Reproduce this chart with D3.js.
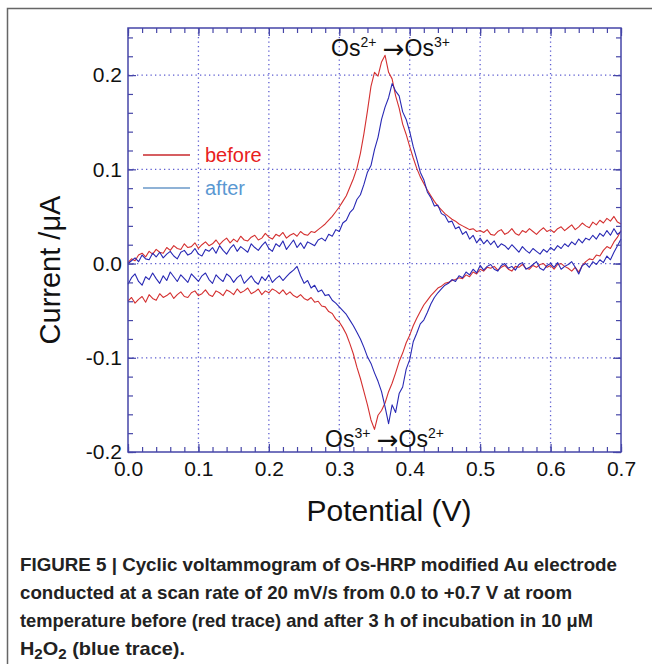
<!DOCTYPE html>
<html><head><meta charset="utf-8">
<script src="https://cdn.jsdelivr.net/npm/d3@7"></script>
<style>html,body{margin:0;padding:0;background:#fff;}svg{display:block;}</style>
</head><body>
<svg id="chart" width="652" height="664"></svg>
<script>
// ---------- DATA (µA vs V, sampled every 0.005 V from 0.0 to 0.7 V) ----------
const potentialStart = 0.0;
const potentialStep = 0.005;
const xTicks = [0.0, 0.1, 0.2, 0.3, 0.4, 0.5, 0.6, 0.7];
const yTicks = [-0.2, -0.1, 0.0, 0.1, 0.2];
const seriesNames = ["before", "after"];

// before (red) – anodic (forward) branch
const beforeForward = [0.001,0.005,0.003,0.009,0.011,0.007,0.013,0.010,0.015,0.012,0.011,0.017,0.014,0.019,0.016,0.015,0.021,0.017,0.018,0.022,
0.016,0.020,0.023,0.019,0.021,0.025,0.020,0.024,0.027,0.022,0.026,0.023,0.029,0.025,0.024,0.028,0.030,0.025,0.027,0.032,
0.028,0.026,0.031,0.029,0.033,0.027,0.030,0.032,0.029,0.034,0.031,0.030,0.034,0.033,0.036,0.039,0.042,0.046,0.050,0.055,
0.060,0.066,0.072,0.081,0.090,0.101,0.117,0.138,0.162,0.188,0.203,0.199,0.214,0.221,0.203,0.196,0.178,0.165,0.148,0.137,
0.124,0.112,0.101,0.092,0.085,0.078,0.072,0.066,0.061,0.057,0.053,0.050,0.047,0.045,0.042,0.040,0.038,0.036,0.037,0.034,
0.035,0.033,0.036,0.031,0.030,0.034,0.036,0.031,0.033,0.037,0.032,0.030,0.035,0.033,0.037,0.034,0.031,0.035,0.038,0.034,
0.036,0.033,0.037,0.039,0.035,0.038,0.041,0.036,0.039,0.043,0.040,0.038,0.044,0.041,0.046,0.043,0.048,0.045,0.050,0.044,0.042];
// before (red) – cathodic (reverse) branch
const beforeReverse = [-0.040,-0.036,-0.042,-0.038,-0.035,-0.041,-0.033,-0.037,-0.039,-0.032,-0.036,-0.034,-0.031,-0.037,-0.033,-0.030,-0.035,-0.036,-0.031,-0.029,
-0.034,-0.032,-0.028,-0.033,-0.035,-0.029,-0.031,-0.034,-0.028,-0.030,-0.033,-0.027,-0.031,-0.029,-0.026,-0.032,-0.030,-0.027,-0.033,-0.029,
-0.031,-0.027,-0.029,-0.032,-0.028,-0.033,-0.030,-0.034,-0.036,-0.033,-0.037,-0.039,-0.036,-0.041,-0.040,-0.045,-0.046,-0.051,-0.053,-0.059,
-0.062,-0.068,-0.075,-0.085,-0.096,-0.110,-0.122,-0.136,-0.150,-0.166,-0.176,-0.161,-0.156,-0.148,-0.136,-0.127,-0.116,-0.104,-0.095,-0.084,
-0.076,-0.066,-0.058,-0.051,-0.044,-0.039,-0.034,-0.030,-0.026,-0.024,-0.021,-0.020,-0.018,-0.017,-0.015,-0.016,-0.012,-0.014,-0.009,-0.011,
-0.006,-0.008,-0.004,-0.005,-0.003,-0.007,-0.004,-0.002,-0.006,-0.008,-0.003,-0.004,-0.001,-0.005,-0.006,-0.002,-0.004,-0.001,0.000,-0.004,
-0.002,-0.006,-0.001,0.000,-0.003,-0.005,-0.008,-0.004,-0.009,-0.002,0.002,0.005,0.004,0.009,0.008,0.014,0.018,0.016,0.023,0.028,0.035];
// after (blue) – anodic (forward) branch
const afterForward = [0.000,0.003,0.006,0.002,0.009,0.005,0.004,0.011,0.007,0.012,0.006,0.010,0.013,0.008,0.005,0.012,0.014,0.009,0.011,0.016,
0.010,0.008,0.015,0.013,0.017,0.011,0.019,0.014,0.010,0.016,0.020,0.013,0.018,0.015,0.012,0.021,0.017,0.014,0.019,0.023,
0.016,0.013,0.021,0.018,0.024,0.015,0.020,0.025,0.017,0.022,0.016,0.023,0.021,0.019,0.025,0.027,0.024,0.031,0.029,0.036,
0.034,0.043,0.046,0.054,0.058,0.068,0.073,0.084,0.097,0.104,0.121,0.134,0.153,0.166,0.176,0.191,0.183,0.178,0.161,0.153,
0.140,0.124,0.111,0.097,0.089,0.076,0.070,0.061,0.062,0.053,0.051,0.044,0.045,0.037,0.039,0.031,0.034,0.026,0.030,0.022,
0.027,0.021,0.025,0.020,0.024,0.017,0.021,0.019,0.015,0.020,0.016,0.012,0.018,0.014,0.011,0.016,0.013,0.010,0.015,0.012,
0.017,0.014,0.019,0.016,0.021,0.018,0.023,0.020,0.026,0.022,0.027,0.025,0.030,0.026,0.032,0.029,0.035,0.030,0.037,0.031,0.034];
// after (blue) – cathodic (reverse) branch
const afterReverse = [-0.022,-0.015,-0.011,-0.019,-0.023,-0.014,-0.017,-0.010,-0.016,-0.021,-0.013,-0.018,-0.009,-0.014,-0.019,-0.012,-0.016,-0.020,-0.011,-0.015,
-0.019,-0.013,-0.010,-0.017,-0.021,-0.012,-0.016,-0.019,-0.011,-0.014,-0.020,-0.015,-0.012,-0.021,-0.017,-0.013,-0.019,-0.022,-0.014,-0.018,
-0.012,-0.020,-0.016,-0.013,-0.018,-0.014,-0.010,-0.007,-0.003,-0.013,-0.021,-0.018,-0.026,-0.023,-0.030,-0.028,-0.034,-0.033,-0.039,-0.042,
-0.046,-0.050,-0.054,-0.060,-0.066,-0.073,-0.080,-0.089,-0.099,-0.106,-0.116,-0.125,-0.136,-0.152,-0.170,-0.150,-0.158,-0.138,-0.131,-0.112,
-0.102,-0.083,-0.074,-0.064,-0.060,-0.052,-0.043,-0.036,-0.031,-0.027,-0.023,-0.021,-0.017,-0.019,-0.013,-0.015,-0.009,-0.012,-0.006,-0.010,
-0.002,-0.007,-0.003,-0.001,-0.006,-0.008,-0.002,0.000,-0.005,-0.003,-0.007,-0.001,0.001,-0.006,-0.004,-0.001,0.002,-0.005,-0.007,-0.002,
0.000,-0.004,0.001,-0.006,-0.003,-0.001,0.002,-0.004,-0.011,-0.002,0.000,-0.004,0.002,-0.001,0.004,0.001,0.008,0.004,0.012,0.019,0.026];

const captionLines = [
  "FIGURE 5 | Cyclic voltammogram of Os-HRP modified Au electrode",
  "conducted at a scan rate of 20 mV/s from 0.0 to +0.7 V at room",
  "temperature before (red trace) and after 3 h of incubation in 10 \u03BCM"
];

// ---------- LAYOUT ----------
const svg = d3.select("#chart");
const M = {left: 128, top: 28, right: 621, bottom: 452};
const x = d3.scaleLinear().domain([0, 0.7]).range([M.left, M.right]);
const y = d3.scaleLinear().domain([-0.2, 0.25]).range([M.bottom, M.top]);

const AX = "#4646a8";
const GRID = "#5c5cd0";
const RED = "#d43030";
const BLUE = "#2828b4";
const FONT = "Liberation Sans, Arial, sans-serif";

// outer figure frame (cropped box)
svg.append("path").attr("d", "M7.5,664 V8.5 H652")
  .attr("fill", "none").attr("stroke", "#666").attr("stroke-width", 1.5);

// grid
const g = svg.append("g");
g.selectAll(".gx").data(xTicks.slice(1, -1)).join("line")
  .attr("x1", d => x(d)).attr("x2", d => x(d)).attr("y1", M.top).attr("y2", M.bottom)
  .attr("stroke", GRID).attr("stroke-width", 1.3).attr("stroke-dasharray", "1.3,3.2");
g.selectAll(".gy").data(yTicks.slice(1)).join("line")
  .attr("y1", d => y(d)).attr("y2", d => y(d)).attr("x1", M.left).attr("x2", M.right)
  .attr("stroke", GRID).attr("stroke-width", 1.3).attr("stroke-dasharray", "1.3,3.2");

// traces
const line = d3.line().x((d, i) => x(potentialStart + i * potentialStep)).y(d => y(d));
const traces = [
  {data: beforeReverse, color: RED},
  {data: beforeForward, color: RED},
  {data: afterReverse, color: BLUE},
  {data: afterForward, color: BLUE}
];
svg.append("g").selectAll("path").data(traces).join("path")
  .attr("d", d => line(d.data)).attr("fill", "none")
  .attr("stroke", d => d.color).attr("stroke-width", 1.1).attr("stroke-linejoin", "round");

// axes
const minorX = d3.range(0, 36).map(i => i * 0.02).filter(v => v <= 0.7001);
const minorY = d3.range(0, 23).map(i => -0.2 + i * 0.02).filter(v => v <= 0.2501);
function styleAxis(sel) {
  sel.select(".domain").remove();
  sel.selectAll("line").attr("stroke", AX).attr("stroke-width", 1.2);
  sel.selectAll("text").attr("fill", "#111").attr("font-family", FONT).attr("font-size", 21);
}
const fmt = v => d3.format(".1f")(v).replace("\u2212", "-");
svg.append("g").attr("transform", `translate(0,${M.bottom})`)
  .call(d3.axisBottom(x).tickValues(minorX).tickSizeInner(-5).tickSizeOuter(0).tickFormat("")).call(styleAxis);
svg.append("g").attr("transform", `translate(0,${M.bottom})`)
  .call(d3.axisBottom(x).tickValues(xTicks).tickSizeInner(-8).tickSizeOuter(0).tickPadding(9).tickFormat(fmt)).call(styleAxis);
svg.append("g").attr("transform", `translate(0,${M.top})`)
  .call(d3.axisTop(x).tickValues(minorX).tickSizeInner(-5).tickSizeOuter(0).tickFormat("")).call(styleAxis);
svg.append("g").attr("transform", `translate(0,${M.top})`)
  .call(d3.axisTop(x).tickValues(xTicks).tickSizeInner(-8).tickSizeOuter(0).tickFormat("")).call(styleAxis);
svg.append("g").attr("transform", `translate(${M.left},0)`)
  .call(d3.axisLeft(y).tickValues(minorY).tickSizeInner(-5).tickSizeOuter(0).tickFormat("")).call(styleAxis);
svg.append("g").attr("transform", `translate(${M.left},0)`)
  .call(d3.axisLeft(y).tickValues(yTicks).tickSizeInner(-8).tickSizeOuter(0).tickPadding(6).tickFormat(fmt)).call(styleAxis);
svg.append("g").attr("transform", `translate(${M.right},0)`)
  .call(d3.axisRight(y).tickValues(minorY).tickSizeInner(-5).tickSizeOuter(0).tickFormat("")).call(styleAxis);
svg.append("g").attr("transform", `translate(${M.right},0)`)
  .call(d3.axisRight(y).tickValues(yTicks).tickSizeInner(-8).tickSizeOuter(0).tickFormat("")).call(styleAxis);

// plot frame
svg.append("rect").attr("x", M.left).attr("y", M.top)
  .attr("width", M.right - M.left).attr("height", M.bottom - M.top)
  .attr("fill", "none").attr("stroke", AX).attr("stroke-width", 1.5);

// axis titles
svg.append("text").attr("x", 389).attr("y", 521).attr("text-anchor", "middle")
  .attr("font-family", FONT).attr("font-size", 30).attr("fill", "#111")
  .text("Potential (V)");
svg.append("text").attr("transform", "translate(60,270) rotate(-90)").attr("text-anchor", "middle")
  .attr("font-family", FONT).attr("font-size", 29).attr("fill", "#111")
  .text("Current /\u03BCA");

// annotations
function annot(xPos, yPos, a, b) {
  const t = svg.append("text").attr("x", xPos).attr("y", yPos)
    .attr("font-family", FONT).attr("font-size", 23).attr("fill", "#111");
  t.append("tspan").text("Os");
  t.append("tspan").attr("font-size", 14).attr("dy", -9).text(a);
  t.append("tspan").attr("dy", 9).text(" ");
  t.append("tspan").attr("font-family", "DejaVu Sans, sans-serif").attr("font-size", 26).attr("dy", 2).text("\u2192");
  t.append("tspan").attr("dy", -2).text("Os");
  t.append("tspan").attr("font-size", 14).attr("dy", -9).text(b);
}
annot(331, 56, "2+", "3+");
annot(325, 447, "3+", "2+");

// legend
const legend = [
  {name: seriesNames[0], line: "#c8282c", text: "#e8201c", yy: 155},
  {name: seriesNames[1], line: "#6a98c8", text: "#5a98d2", yy: 188}
];
const lg = svg.append("g").selectAll("g").data(legend).join("g");
lg.append("line").attr("x1", 143).attr("x2", 190).attr("y1", d => d.yy).attr("y2", d => d.yy)
  .attr("stroke", d => d.line).attr("stroke-width", 1.6);
lg.append("text").attr("x", 205).attr("y", d => d.yy + 7)
  .attr("font-family", FONT).attr("font-size", 20)
  .attr("fill", d => d.text).text(d => d.name);

// caption
const capW = [597, 552, 573];
const CAPFONT = "Liberation Sans Narrow, Arial Narrow, Liberation Sans, sans-serif";
captionLines.forEach((s, i) => {
  svg.append("text").attr("x", 20).attr("y", 571 + i * 28)
    .attr("font-family", CAPFONT)
    .attr("font-weight", "bold").attr("font-size", 18.5).attr("fill", "#222")
    .attr("textLength", capW[i]).attr("lengthAdjust", "spacingAndGlyphs")
    .text(s);
});
const last = svg.append("text").attr("x", 20).attr("y", 655)
  .attr("font-family", CAPFONT)
  .attr("font-weight", "bold").attr("font-size", 18.5).attr("fill", "#222")
  .attr("textLength", 165).attr("lengthAdjust", "spacingAndGlyphs");
last.append("tspan").text("H");
last.append("tspan").attr("font-size", 14).attr("dy", 4).text("2");
last.append("tspan").attr("dy", -4).text("O");
last.append("tspan").attr("font-size", 14).attr("dy", 4).text("2");
last.append("tspan").attr("dy", -4).text(" (blue trace).");
</script>
</body></html>
